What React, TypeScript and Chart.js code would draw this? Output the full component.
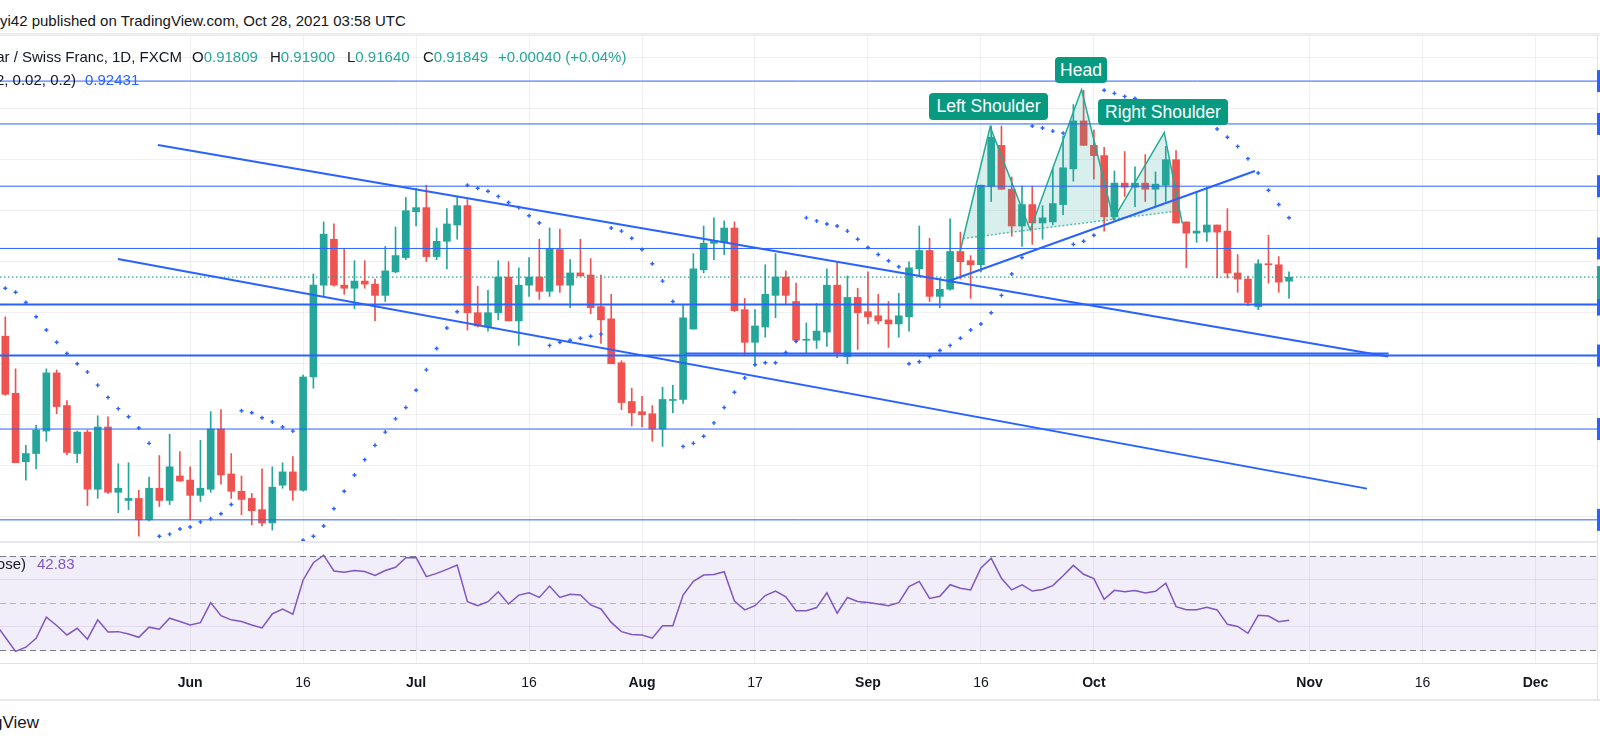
import { useEffect, useRef } from 'react';
import Chart from 'chart.js/auto';

// Daily USD/CHF candles, weekdays only. Index 0 = Jun 1 2021, first candle = May 6 2021.
const FIRST_INDEX = -18;
const X_MIN = -18.516;
const X_MAX = 136.99;

const opens = [
  0.9127, 0.9071, 0.9004, 0.9012, 0.9034, 0.9091, 0.9059, 0.9012, 0.9033, 0.8977,
  0.9038, 0.8974, 0.8966, 0.8968, 0.8947, 0.8978, 0.8966, 0.8990, 0.8986, 0.8971,
  0.8977, 0.9036, 0.8992, 0.8975, 0.8968, 0.8957, 0.8944, 0.8981, 0.8994, 0.8976,
  0.9087, 0.9177, 0.9222, 0.9177, 0.9174, 0.9181, 0.9178, 0.9167, 0.9190, 0.9204,
  0.9249, 0.9253, 0.9205, 0.9220, 0.9236, 0.9255, 0.9150, 0.9136, 0.9150, 0.9185,
  0.9142, 0.9177, 0.9185, 0.9171, 0.9212, 0.9177, 0.9189, 0.9187, 0.9156, 0.9144,
  0.9101, 0.9063, 0.9053, 0.9051, 0.9036, 0.9064, 0.9065, 0.9134, 0.9192, 0.9218,
  0.9219, 0.9233, 0.9153, 0.9121, 0.9136, 0.9167, 0.9185, 0.9161, 0.9123, 0.9123,
  0.9131, 0.9177, 0.9107, 0.9165, 0.9151, 0.9147, 0.9143, 0.9139, 0.9146, 0.9193,
  0.9211, 0.9166, 0.9173, 0.9210, 0.9201, 0.9197, 0.9274, 0.9314, 0.9271, 0.9235,
  0.9256, 0.9238, 0.9239, 0.9256, 0.9291, 0.9338, 0.9314, 0.9304, 0.9244, 0.9277,
  0.9273, 0.9277, 0.9271, 0.9275, 0.9300, 0.9239, 0.9228, 0.9229, 0.9236, 0.9230,
  0.9189, 0.9183, 0.9156, 0.9198, 0.9197, 0.91809,
];
const highs = [
  0.9146, 0.9095, 0.9020, 0.9040, 0.9095, 0.9094, 0.9064, 0.9034, 0.9035, 0.9049,
  0.9048, 0.9002, 0.9003, 0.8976, 0.8989, 0.9010, 0.9031, 0.9014, 0.8999, 0.9025,
  0.9053, 0.9055, 0.9012, 0.8990, 0.8973, 0.8997, 0.8999, 0.9003, 0.9009, 0.9089,
  0.9188, 0.9239, 0.9237, 0.9213, 0.9201, 0.9201, 0.9183, 0.9215, 0.9234, 0.9263,
  0.9272, 0.9275, 0.9233, 0.9252, 0.9264, 0.9261, 0.9176, 0.9172, 0.9201, 0.9200,
  0.9194, 0.9204, 0.9222, 0.9233, 0.9232, 0.9202, 0.9222, 0.9203, 0.9187, 0.9168,
  0.9103, 0.9076, 0.9068, 0.9059, 0.9077, 0.9079, 0.9158, 0.9208, 0.9235, 0.9243,
  0.9240, 0.9239, 0.9164, 0.9153, 0.9197, 0.9208, 0.9191, 0.9179, 0.9140, 0.9159,
  0.9193, 0.9200, 0.9186, 0.9174, 0.9190, 0.9168, 0.9161, 0.9169, 0.9200, 0.9235,
  0.9223, 0.9184, 0.9242, 0.9229, 0.9206, 0.9275, 0.9333, 0.9333, 0.9283, 0.9274,
  0.9274, 0.9255, 0.9292, 0.9323, 0.9354, 0.9368, 0.9329, 0.9312, 0.9289, 0.9308,
  0.9293, 0.9305, 0.9288, 0.9313, 0.9309, 0.9239, 0.9269, 0.9273, 0.9236, 0.9252,
  0.9207, 0.9186, 0.9202, 0.9226, 0.9205, 0.91900,
];
const lows = [
  0.9069, 0.9003, 0.8986, 0.8997, 0.9024, 0.9051, 0.9011, 0.9003, 0.8961, 0.8968,
  0.8973, 0.8954, 0.8957, 0.8931, 0.8946, 0.8960, 0.8962, 0.8985, 0.8947, 0.8965,
  0.8974, 0.8982, 0.8968, 0.8952, 0.8942, 0.8941, 0.8937, 0.8978, 0.8966, 0.8975,
  0.9076, 0.9166, 0.9176, 0.9168, 0.9154, 0.9174, 0.9142, 0.9161, 0.9189, 0.9202,
  0.9235, 0.9200, 0.9202, 0.9193, 0.9222, 0.9133, 0.9136, 0.9132, 0.9143, 0.9142,
  0.9118, 0.9166, 0.9163, 0.9166, 0.9170, 0.9155, 0.9186, 0.9149, 0.9120, 0.9100,
  0.9055, 0.9039, 0.9038, 0.9024, 0.9019, 0.9052, 0.9061, 0.9134, 0.9189, 0.9202,
  0.9207, 0.9151, 0.9109, 0.9098, 0.9126, 0.9145, 0.9159, 0.9121, 0.9111, 0.9115,
  0.9117, 0.9106, 0.9100, 0.9114, 0.9139, 0.9139, 0.9116, 0.9126, 0.9132, 0.9185,
  0.9161, 0.9155, 0.9172, 0.9183, 0.9164, 0.9190, 0.9259, 0.9271, 0.9225, 0.9215,
  0.9217, 0.9222, 0.9236, 0.9246, 0.9279, 0.9314, 0.9281, 0.9230, 0.9241, 0.9264,
  0.9254, 0.9259, 0.9254, 0.9259, 0.9238, 0.9194, 0.9219, 0.9220, 0.9184, 0.9184,
  0.9170, 0.9157, 0.9153, 0.9179, 0.9170, 0.91640,
];
const closes = [
  0.9070, 0.9003, 0.9012, 0.9035, 0.9091, 0.9058, 0.9013, 0.9033, 0.8977, 0.9038,
  0.8974, 0.8978, 0.8968, 0.8947, 0.8978, 0.8966, 0.8999, 0.8985, 0.8971, 0.8978,
  0.9036, 0.8991, 0.8975, 0.8967, 0.8956, 0.8944, 0.8979, 0.8994, 0.8976, 0.9087,
  0.9177, 0.9227, 0.9177, 0.9174, 0.9181, 0.9178, 0.9167, 0.9191, 0.9206, 0.9250,
  0.9253, 0.9205, 0.9220, 0.9237, 0.9255, 0.9150, 0.9137, 0.9150, 0.9185, 0.9142,
  0.9177, 0.9185, 0.9171, 0.9213, 0.9177, 0.9189, 0.9186, 0.9155, 0.9143, 0.9100,
  0.9062, 0.9052, 0.9050, 0.9036, 0.9065, 0.9065, 0.9145, 0.9193, 0.9218, 0.9221,
  0.9233, 0.9152, 0.9121, 0.9137, 0.9168, 0.9185, 0.9167, 0.9123, 0.9124, 0.9132,
  0.9177, 0.9110, 0.9165, 0.9150, 0.9146, 0.9142, 0.9139, 0.9147, 0.9194, 0.9211,
  0.9166, 0.9173, 0.9210, 0.9200, 0.9197, 0.9275, 0.9322, 0.9271, 0.9235, 0.9256,
  0.9238, 0.9243, 0.9257, 0.9292, 0.9338, 0.9314, 0.9304, 0.9244, 0.9277, 0.9273,
  0.9277, 0.9271, 0.9276, 0.9300, 0.9238, 0.9228, 0.9230, 0.9236, 0.9229, 0.9189,
  0.9183, 0.9160, 0.9198, 0.9197, 0.9180, 0.91849,
];
// Parabolic SAR (0.02, 0.02, 0.2); null where the dots sit behind the "Right Shoulder" label
const sar = [
  0.9174, 0.9170, 0.9160, 0.9146, 0.9133, 0.9121, 0.9110, 0.9100, 0.9092, 0.9079,
  0.9067, 0.9056, 0.9048, 0.9037, 0.9022, 0.8931, 0.8933, 0.8938, 0.8940, 0.8945,
  0.8948, 0.8953, 0.8962, 0.9054, 0.9052, 0.9047, 0.9043, 0.9038, 0.9034, 0.8927,
  0.8931, 0.8941, 0.8958, 0.8975, 0.8991, 0.9006, 0.9020, 0.9033, 0.9046, 0.9057,
  0.9074, 0.9094, 0.9115, 0.9135, 0.9151, 0.9275, 0.9272, 0.9269, 0.9264, 0.9258,
  0.9253, 0.9245, 0.9238, 0.9118, 0.9121, 0.9123, 0.9125, 0.9127, 0.9129, 0.9233,
  0.9230, 0.9223, 0.9212, 0.9198, 0.9181, 0.9161, 0.9019, 0.9022, 0.9029, 0.9042,
  0.9057, 0.9072, 0.9086, 0.9099, 0.9101, 0.9101, 0.9111, 0.9122, 0.9243, 0.9240,
  0.9237, 0.9235, 0.9230, 0.9222, 0.9214, 0.9207, 0.9201, 0.9195, 0.9100, 0.9102,
  0.9107, 0.9113, 0.9118, 0.9125, 0.9133, 0.9139, 0.9150, 0.9167, 0.9188, 0.9204,
  0.9333, 0.9331, 0.9328, 0.9326, 0.9217, 0.9220, 0.9226, 0.9368, 0.9365, 0.9362,
  0.9360, null, null, null, null, null, null, null, 0.9330, 0.9322,
  0.9313, 0.9301, 0.9287, 0.9270, 0.9256, 0.92431,
];
// RSI(14), starts one bar before the first visible candle
const rsi = [
  41.6,
  35.6, 29.6, 31.4, 35.2, 44.1, 40.6, 36.6, 39.4, 34.8, 43.0,
  37.8, 38.0, 37.0, 35.6, 39.9, 39.0, 43.7, 42.3, 40.8, 41.8,
  50.3, 44.8, 43.0, 42.3, 40.8, 39.6, 45.5, 47.6, 45.4, 59.9,
  67.2, 70.4, 63.7, 63.2, 63.9, 63.5, 61.8, 63.9, 65.3, 69.3,
  69.4, 61.3, 62.7, 64.4, 66.2, 50.7, 49.0, 50.7, 54.9, 49.7,
  53.5, 54.5, 52.5, 57.3, 52.5, 53.8, 53.5, 49.3, 47.6, 41.9,
  38.0, 36.8, 36.6, 35.2, 40.5, 40.5, 53.5, 59.3, 62.0, 62.2,
  63.4, 51.0, 47.2, 49.0, 53.3, 55.2, 52.8, 46.9, 46.9, 48.2,
  54.5, 45.8, 52.5, 50.8, 50.3, 49.7, 49.0, 50.3, 57.1, 59.3,
  52.1, 53.0, 57.9, 56.4, 55.7, 65.0, 69.1, 60.6, 55.7, 57.8,
  55.2, 55.9, 57.5, 61.7, 66.1, 62.3, 60.5, 51.7, 55.5, 54.9,
  55.4, 54.4, 55.1, 58.5, 48.6, 47.3, 47.3, 48.3, 47.2, 41.1,
  40.2, 37.3, 44.9, 44.6, 42.2, 42.83,
];

const tickIndex = [0, 11, 22, 33, 44, 55, 66, 77, 88, 109, 120, 131];
const tickText = ['Jun', '16', 'Jul', '16', 'Aug', '17', 'Sep', '16', 'Oct', 'Nov', '16', 'Dec'];
const priceGrid = [0.895, 0.9, 0.905, 0.91, 0.915, 0.92, 0.925, 0.93, 0.935, 0.94];
const rsiGrid = [40, 60];
const rsiLevels = [70, 50, 30];

const thinLevels = [0.9377, 0.9335, 0.9274, 0.9213, 0.9036, 0.8947];
const thickLevels = [0.9158, 0.9108];
const supportX = [48.2, 116.7];
const supportY = [0.911, 0.911];
const trendX = [[-3.14, 116.63], [-7.03, 114.59], [73.88, 103.68]];
const trendY = [[0.93144, 0.9107], [0.92027, 0.89776], [0.91811, 0.92889]];
// head & shoulders: start, left shoulder, neck 1, head, neck 2, right shoulder, end
const hsX = [74.96, 77.9, 81.8, 86.8, 89.9, 94.85, 96.6];
const hsY = [0.92098, 0.93323, 0.92311, 0.93688, 0.92416, 0.93265, 0.92375];
const neckX = [75.27, 96.36];
const neckY = [0.92228, 0.925];
const lastPrice = 0.91849;

const UP = '#26a69a';
const DOWN = '#ef5350';
const BLUE = '#2962ff';
const TEAL = '#089981';
const TEXT = '#131722';
const GRID = 'rgba(42,46,57,0.07)';
const FONT = '"Liberation Sans", Arial, sans-serif';

const xAxis = (labels: boolean) => ({
  type: 'linear' as const,
  min: X_MIN,
  max: X_MAX,
  offset: false,
  afterBuildTicks: (s: any) => {
    s.ticks = tickIndex.map((value) => ({ value }));
  },
  afterFit: (s: any) => {
    s.height = labels ? 37 : 0;
  },
  grid: { color: GRID, drawTicks: false, offset: false },
  border: { display: labels, color: '#e0e3eb' },
  ticks: {
    display: labels,
    autoSkip: false,
    maxRotation: 0,
    minRotation: 0,
    padding: 12,
    color: TEXT,
    callback: (v: any) => tickText[tickIndex.indexOf(Number(v))] ?? '',
    font: (ctx: any) => {
      const t = tickText[tickIndex.indexOf(ctx.tick?.value)] ?? '';
      return { family: FONT, size: 14, weight: /^\d/.test(t) ? 'normal' : 'bold' };
    },
  },
});

export default function App() {
  const mainRef = useRef<HTMLCanvasElement | null>(null);
  const rsiRef = useRef<HTMLCanvasElement | null>(null);

  useEffect(() => {
    if (!mainRef.current || !rsiRef.current) return;
    Chart.defaults.font.family = FONT;

    const xs = opens.map((_, i) => FIRST_INDEX + i);
    const colors = opens.map((o, i) => (closes[i] >= o ? UP : DOWN));
    const seg = (x: number[], y: number[], color: string, width: number, order: number, dash: number[] = []) => ({
      type: 'line' as const,
      data: x.map((v, i) => ({ x: v, y: y[i] })),
      borderColor: color,
      borderWidth: width,
      borderDash: dash,
      pointRadius: 0,
      fill: false,
      order,
    });

    const axisMarks = {
      id: 'axisMarks',
      afterDraw(chart: any) {
        const { ctx, chartArea, scales } = chart;
        ctx.save();
        ctx.fillStyle = '#e0e3eb';
        ctx.fillRect(chartArea.right, 0, 1, chart.height);
        ctx.fillStyle = BLUE;
        [...thinLevels, ...thickLevels].forEach((p) => {
          const y = scales.y.getPixelForValue(p);
          ctx.fillRect(chartArea.right, y - 11, 3, 22);
        });
        ctx.fillStyle = UP;
        const yl = scales.y.getPixelForValue(lastPrice);
        ctx.fillRect(chartArea.right, yl - 11, 3, 33);
        ctx.restore();
      },
    };

    const main = new Chart(mainRef.current, {
      type: 'bar',
      data: {
        datasets: [
          ...thinLevels.map((p) => seg([X_MIN, X_MAX], [p, p], BLUE, 1, 1)),
          ...thickLevels.map((p) => seg([X_MIN, X_MAX], [p, p], BLUE, 2, 1)),
          seg(supportX, supportY, BLUE, 2, 1),
          ...trendX.map((x, i) => seg(x, trendY[i], BLUE, 2, 1)),
          seg([X_MIN, X_MAX], [lastPrice, lastPrice], UP, 1.2, 1, [1.5, 2.5]),
          seg(hsX, hsY, '#22ab94', 1.5, 2),
          seg(neckX, neckY, 'rgba(34,171,148,0.75)', 1.5, 2, [2, 2]),
          {
            type: 'line' as const,
            data: [
              { x: neckX[0], y: neckY[0] },
              ...hsX.slice(1, 6).map((x, i) => ({ x, y: hsY[i + 1] })),
              { x: neckX[1], y: neckY[1] },
            ],
            fill: 'shape',
            backgroundColor: 'rgba(38,166,154,0.18)',
            borderColor: 'rgba(0,0,0,0)',
            borderWidth: 1,
            pointRadius: 0,
            order: 3,
          },
          {
            type: 'line' as const,
            data: xs.map((x, i) => ({ x, y: sar[i] })),
            showLine: false,
            pointStyle: 'cross',
            pointRadius: 2,
            pointBorderWidth: 1.4,
            pointBorderColor: BLUE,
            pointBackgroundColor: BLUE,
            order: 4,
          },
          {
            type: 'bar' as const,
            data: xs.map((x, i) => ({ x, y: [Math.min(opens[i], closes[i]), Math.max(opens[i], closes[i])] })),
            backgroundColor: colors,
            barThickness: 7,
            minBarLength: 1,
            grouped: false,
            borderWidth: 0,
            order: 5,
          },
          {
            type: 'bar' as const,
            data: xs.map((x, i) => ({ x, y: [lows[i], highs[i]] })),
            backgroundColor: colors,
            barThickness: 1,
            minBarLength: 1,
            grouped: false,
            borderWidth: 0,
            order: 6,
          },
        ] as any,
      },
      options: {
        animation: false,
        responsive: false,
        layout: { autoPadding: false, padding: { left: 0, top: 0, bottom: 0, right: 3 } },
        events: [],
        plugins: { legend: { display: false }, tooltip: { enabled: false } },
        scales: {
          x: xAxis(false) as any,
          y: {
            type: 'linear',
            min: 0.89253,
            max: 0.94212,
            beginAtZero: false,
            afterBuildTicks: (s: any) => {
              s.ticks = priceGrid.map((value) => ({ value }));
            },
            afterFit: (s: any) => {
              s.width = 0;
            },
            grid: { color: GRID, drawTicks: false },
            border: { display: false },
            ticks: { display: false },
          },
        },
      },
      plugins: [axisMarks],
    });

    const rsiBand = {
      id: 'rsiBand',
      beforeDatasetsDraw(chart: any) {
        const { ctx, chartArea, scales } = chart;
        const { left, right } = chartArea;
        const y70 = scales.y.getPixelForValue(rsiLevels[0]);
        const y50 = scales.y.getPixelForValue(rsiLevels[1]);
        const y30 = scales.y.getPixelForValue(rsiLevels[2]);
        ctx.save();
        ctx.fillStyle = 'rgba(126,87,194,0.1)';
        ctx.fillRect(left, y70, right - left, y30 - y70);
        ctx.lineWidth = 1;
        ctx.setLineDash([6, 4]);
        ctx.strokeStyle = '#787b86';
        [y70, y30].forEach((y) => {
          ctx.beginPath();
          ctx.moveTo(left, Math.round(y) + 0.5);
          ctx.lineTo(right, Math.round(y) + 0.5);
          ctx.stroke();
        });
        ctx.strokeStyle = 'rgba(120,123,134,0.5)';
        ctx.beginPath();
        ctx.moveTo(left, Math.round(y50) + 0.5);
        ctx.lineTo(right, Math.round(y50) + 0.5);
        ctx.stroke();
        ctx.restore();
      },
      afterDraw(chart: any) {
        const { ctx, chartArea } = chart;
        ctx.save();
        ctx.fillStyle = '#e0e3eb';
        ctx.fillRect(chartArea.right, 0, 1, chart.height);
        ctx.restore();
      },
    };

    const rsiChart = new Chart(rsiRef.current, {
      type: 'line',
      data: {
        datasets: [
          {
            data: rsi.map((y, i) => ({ x: FIRST_INDEX - 1 + i, y })),
            borderColor: '#7e57c2',
            borderWidth: 1.5,
            pointRadius: 0,
            fill: false,
          },
        ],
      },
      options: {
        animation: false,
        responsive: false,
        layout: { autoPadding: false, padding: { left: 0, top: 0, bottom: 0, right: 3 } },
        events: [],
        plugins: { legend: { display: false }, tooltip: { enabled: false } },
        scales: {
          x: xAxis(true) as any,
          y: {
            type: 'linear',
            min: 24.7,
            max: 76,
            afterBuildTicks: (s: any) => {
              s.ticks = rsiGrid.map((value) => ({ value }));
            },
            afterFit: (s: any) => {
              s.width = 0;
            },
            grid: { color: 'rgba(126,87,194,0.13)', drawTicks: false },
            border: { display: false },
            ticks: { display: false },
          },
        },
      },
      plugins: [rsiBand],
    });

    return () => {
      main.destroy();
      rsiChart.destroy();
    };
  }, []);

  const abs = (x: number, y: number, extra: any = {}) => ({
    position: 'absolute' as const,
    left: x,
    top: y - 10,
    height: 20,
    lineHeight: '20px',
    whiteSpace: 'nowrap' as const,
    ...extra,
  });
  const rightAt = (x: number, y: number, extra: any = {}) => ({
    position: 'absolute' as const,
    right: 1600 - x,
    top: y - 10,
    height: 20,
    lineHeight: '20px',
    whiteSpace: 'nowrap' as const,
    ...extra,
  });
  const tag = (x: number, y: number, w: number, h: number) => ({
    position: 'absolute' as const,
    left: x,
    top: y,
    width: w,
    height: h,
    lineHeight: h + 'px',
    background: TEAL,
    color: '#fff',
    borderRadius: 4,
    fontSize: 17.5,
    textAlign: 'center' as const,
    whiteSpace: 'nowrap' as const,
  });

  return (
    <div
      style={{
        position: 'absolute',
        left: 0,
        top: 0,
        width: 1600,
        height: 747,
        overflow: 'hidden',
        background: '#fff',
        fontFamily: FONT,
        color: TEXT,
      }}
    >
      <div style={abs(0, 21, { fontSize: 15 })}>yi42 published on TradingView.com, Oct 28, 2021 03:58 UTC</div>
      <div style={{ position: 'absolute', left: 0, top: 33, width: 1600, height: 3, background: '#eceef2' }} />

      <canvas ref={mainRef} width={1600} height={506} style={{ position: 'absolute', left: 0, top: 36 }} />
      <canvas ref={rsiRef} width={1600} height={158} style={{ position: 'absolute', left: 0, top: 542 }} />
      <div style={{ position: 'absolute', left: 0, top: 541, width: 1597, height: 2, background: '#e6e8ee' }} />
      <div style={{ position: 'absolute', left: 0, top: 699, width: 1600, height: 2, background: '#e6e8ee' }} />

      <div style={rightAt(182, 57, { fontSize: 15 })}>U.S. Dollar / Swiss Franc, 1D, FXCM</div>
      <div style={abs(192, 57, { fontSize: 15 })}>
        O<span style={{ color: UP }}>0.91809</span>
      </div>
      <div style={abs(270, 57, { fontSize: 15 })}>
        H<span style={{ color: UP }}>0.91900</span>
      </div>
      <div style={abs(347, 57, { fontSize: 15 })}>
        L<span style={{ color: UP }}>0.91640</span>
      </div>
      <div style={abs(423, 57, { fontSize: 15 })}>
        C<span style={{ color: UP }}>0.91849</span>
      </div>
      <div style={abs(498, 57, { fontSize: 15, color: UP })}>+0.00040 (+0.04%)</div>
      <div style={rightAt(76, 80, { fontSize: 15 })}>Parabolic SAR (0.02, 0.02, 0.2)</div>
      <div style={abs(85, 80, { fontSize: 15, color: BLUE })}>0.92431</div>

      <div style={tag(929, 93, 119, 27)}>Left Shoulder</div>
      <div style={tag(1055, 57, 52, 26)}>Head</div>
      <div style={tag(1098, 99, 130, 26)}>Right Shoulder</div>

      <div style={rightAt(26, 564, { fontSize: 15 })}>RSI (14, close)</div>
      <div style={abs(37, 564, { fontSize: 15, color: '#7e57c2' })}>42.83</div>

      <div style={rightAt(39, 723, { fontSize: 17 })}>TradingView</div>
    </div>
  );
}
